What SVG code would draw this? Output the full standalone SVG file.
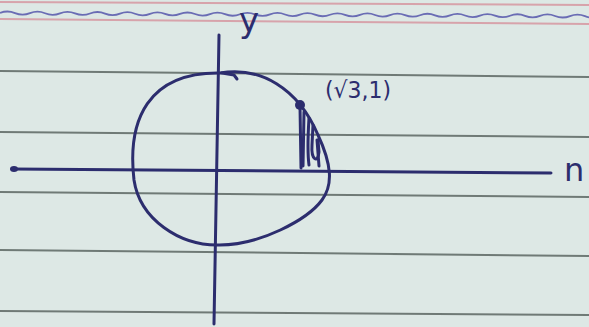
<svg xmlns="http://www.w3.org/2000/svg" width="589" height="327" viewBox="0 0 589 327">
  <style>
    .rule { stroke: #6f7a76; stroke-width: 2; fill: none; }
    .red { stroke: #d7a3ab; stroke-width: 2; fill: none; }
    .ink { stroke: #2c2d6e; stroke-width: 3; fill: none; stroke-linecap: round; stroke-linejoin: round; }
    .hand { fill: #2c2d6e; font-family: "DejaVu Sans", "Liberation Sans", sans-serif; }
  </style>
  <rect id="paper" x="0" y="0" width="589" height="327" fill="#dde8e5"/>
  <g id="ruling">
    <line class="red" x1="0" y1="2" x2="589" y2="5"/>
    <path d="M0,13 q7.5,-3 15,0.08 t15,0.08 t15,0.08 t15,0.08 t15,0.08 t15,0.08 t15,0.08 t15,0.08 t15,0.08 t15,0.08 t15,0.08 t15,0.08 t15,0.08 t15,0.08 t15,0.08 t15,0.08 t15,0.08 t15,0.08 t15,0.08 t15,0.08 t15,0.08 t15,0.08 t15,0.08 t15,0.08 t15,0.08 t15,0.08 t15,0.08 t15,0.08 t15,0.08 t15,0.08 t15,0.08 t15,0.08 t15,0.08 t15,0.08 t15,0.08 t15,0.08 t15,0.08 t15,0.08 t15,0.08 t15,0.08" stroke="#6a6cb4" stroke-width="1.8" fill="none"/>
    <line class="red" x1="0" y1="19" x2="589" y2="24"/>
    <line class="rule" x1="0" y1="71" x2="589" y2="77"/>
    <line class="rule" x1="0" y1="132" x2="589" y2="137"/>
    <line class="rule" x1="0" y1="192" x2="589" y2="197"/>
    <line class="rule" x1="0" y1="250" x2="589" y2="256"/>
    <line class="rule" x1="0" y1="311" x2="589" y2="315"/>
  </g>
  <g id="axes">
    <path class="ink" d="M12,169 L551,173"/>
    <ellipse cx="14" cy="169" rx="4" ry="3" fill="#2c2d6e"/>
    <path class="ink" d="M219,35 L214,324"/>
  </g>
  <g id="circle">
    <path class="ink" d="M220,73 C260,66 298,88 318,135 C332,165 333,185 322,200 C308,219 260,246 217,245 C180,245 140,220 134,180 C127,120 148,72 220,73 Z"/>
    <path class="ink" stroke-width="3.5" d="M222,73 L234,75 L237,79"/>
  </g>
  <g id="point">
    <circle cx="300" cy="105" r="5" fill="#2c2d6e"/>
    <g class="ink" stroke-width="2.2">
      <path d="M300,106 L301,168"/>
      <path d="M304,112 L303,166"/>
      <path d="M309,118 C308,135 307,150 309,165"/>
      <path d="M313,125 L312,145 C311,160 318,164 319,152 L318,140"/>
      <path d="M317,140 L319,166"/>
    </g>
  </g>
  <g id="labels">
    <text class="hand" x="239" y="32" font-size="34">y</text>
    <text class="hand" x="564" y="181" font-size="32">n</text>
    <text class="hand" x="325" y="98" font-size="23" textLength="66" lengthAdjust="spacingAndGlyphs">(√3,1)</text>
  </g>
</svg>
